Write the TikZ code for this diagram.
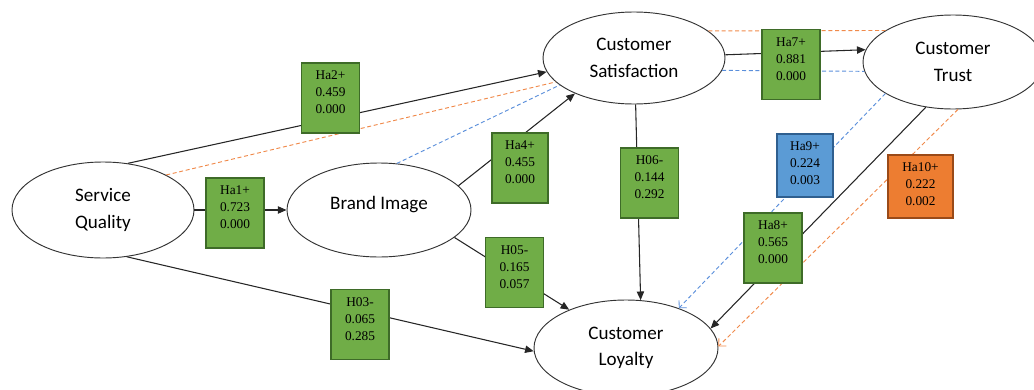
\documentclass[tikz,border=0pt]{standalone}
\usepackage{fontspec}
\setmainfont{Liberation Serif}
\newfontfamily\calib{Carlito}
\usetikzlibrary{shapes.geometric,arrows.meta}
\definecolor{gfill}{HTML}{70AD47}
\definecolor{gline}{HTML}{3E6B28}
\definecolor{bfill}{HTML}{5B9BD5}
\definecolor{bline}{HTML}{2F5F8F}
\definecolor{ofill}{HTML}{ED7D31}
\definecolor{oline}{HTML}{9A4A18}
\definecolor{dblue}{HTML}{5B8FDB}
\definecolor{dorange}{HTML}{F08A4B}
\newcommand\statlines[4][3.6pt]{\raisebox{#1}[\height][\depth]{\begin{tabular}{@{}c@{}}#2\\#3\\#4\end{tabular}}}
\tikzset{
  construct/.style={ellipse, draw=black!80, line width=0.7pt, fill=white, inner sep=0pt,
    font=\calib\fontsize{14.3}{20}\selectfont, align=center},
  statbox/.style={rectangle, draw=gline, fill=gfill, line width=0.8pt, inner sep=0pt,
    minimum width=43.5pt, minimum height=52.5pt,
    font=\fontsize{10}{12.75}\selectfont},
  arr/.style={draw=black!85, line width=0.8pt, -{Triangle[length=6.5pt,width=5.5pt]}},
  bluedash/.style={draw=dblue, line width=0.7pt, dash pattern=on 3pt off 2pt},
  orangedash/.style={draw=dorange, line width=0.7pt, dash pattern=on 3pt off 2pt},
  openarr/.style={-{Straight Barb[length=4pt,width=8pt,line width=0.6pt]}}
}
\begin{document}
\begin{tikzpicture}[x=0.75pt,y=-0.75pt]
\useasboundingbox (0,0) rectangle (1034,389);
% constructs
\node[construct, minimum width=136.5pt, minimum height=72pt] (sq) at (103,210) {Service\\Quality};
\node[construct, minimum width=138pt, minimum height=70.5pt] (bi) at (379,210) {\raisebox{3.8pt}[\height][\depth]{Brand Image}};
\node[construct, minimum width=136.5pt, minimum height=69pt] (cs) at (634,58) {Customer\\Satisfaction};
\node[construct, minimum width=135pt, minimum height=70.5pt] (ct) at (953,62) {Customer\\Trust};
\node[construct, minimum width=138pt, minimum height=72pt] (cl) at (626,348) {Customer\\Loyalty};
% dashed mediation paths
\draw[orangedash] (sq.29) -- (cs.197);
\draw[bluedash] (bi.69) -- (cs.200);
\draw[orangedash] (cs.20) -- (ct.155);
\draw[bluedash] (cs.-8) -- (ct.186);
\draw[bluedash, openarr] (ct.205) -- (cl.37);
\draw[orangedash, openarr] (ct.-84) -- (cl.1);
% solid paths
\draw[arr] (sq.0) -- (bi.180);
\draw[arr] (sq.62) -- (cs.189);
\draw[arr] (sq.-63) -- (cl.182);
\draw[arr] (bi.17) -- (cs.211);
\draw[arr] (bi.-20) -- (cl.146);
\draw[arr] (cs.-88) -- (cl.73);
\draw[arr] (cs.2) -- (ct.172);
\draw[arr] (ct.239) -- (cl.13);
% statistics boxes
\node[statbox] (ha2) at (330.5,98) {\statlines{Ha2+}{0.459}{0.000}};
\node[statbox] (ha1) at (235,213) {\statlines{Ha1+}{0.723}{0.000}};
\node[statbox, minimum width=42pt] (ha4) at (520,168) {\statlines{Ha4+}{0.455}{0.000}};
\node[statbox] (h05) at (514.5,272.5) {\statlines{H05-}{0.165}{0.057}};
\node[statbox] (h03) at (360,324.5) {\statlines{H03-}{0.065}{0.285}};
\node[statbox] (h06) at (649.5,183) {\statlines{H06-}{0.144}{0.292}};
\node[statbox] (ha7) at (791,64.5) {\statlines{Ha7+}{0.881}{0.000}};
\node[statbox, draw=bline, fill=bfill, minimum width=42pt, minimum height=47.25pt] (ha9) at (805,165.5) {\statlines[1.1pt]{Ha9+}{0.224}{0.003}};
\node[statbox, draw=oline, fill=ofill, minimum width=48.75pt, minimum height=47.25pt] (ha10) at (920.5,186.5) {\statlines[1.1pt]{Ha10+}{0.222}{0.002}};
\node[statbox] (ha8) at (773,248) {\statlines{Ha8+}{0.565}{0.000}};
\end{tikzpicture}
\end{document}
